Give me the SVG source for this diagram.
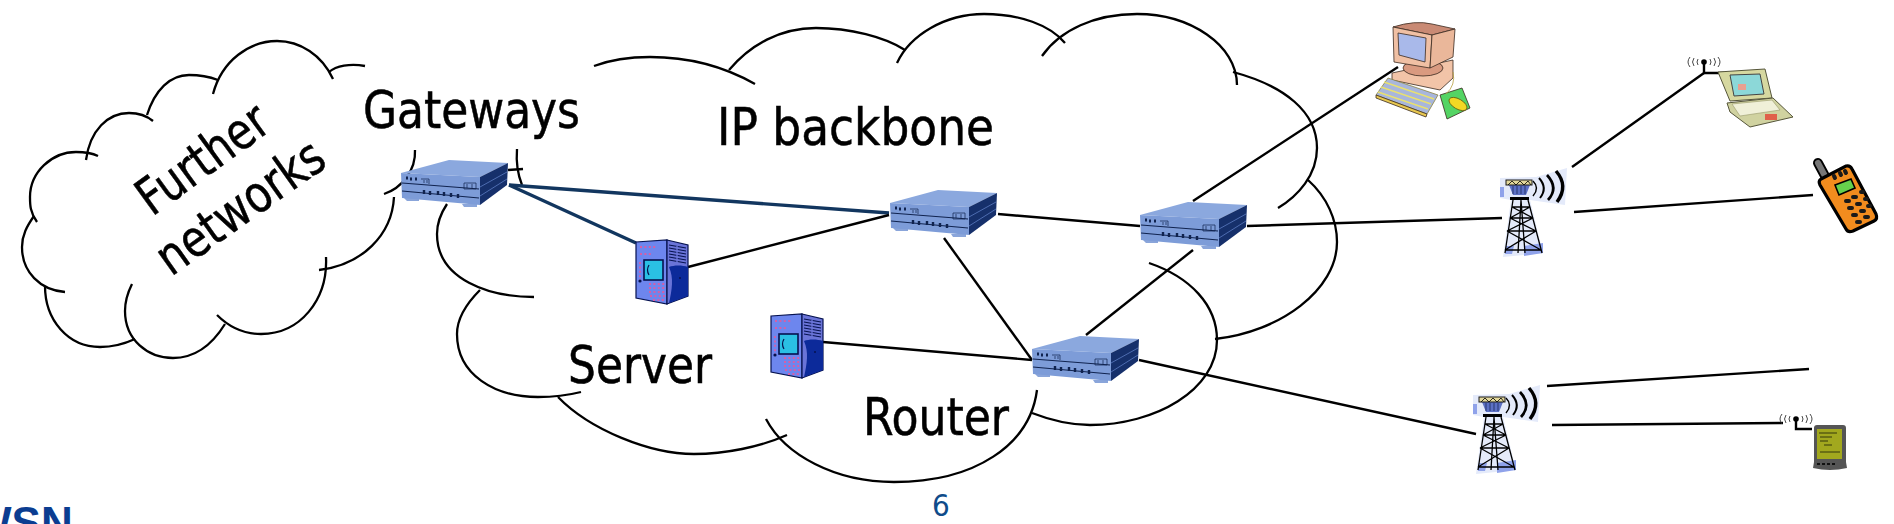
<svg xmlns="http://www.w3.org/2000/svg" xmlns:xlink="http://www.w3.org/1999/xlink" width="1894" height="524" viewBox="0 0 1894 524">
<style>
.cloud{fill:none;stroke:#000;stroke-width:2.3}
.link{fill:none;stroke:#000;stroke-width:2.4}
.navy{fill:none;stroke:#12365f;stroke-width:3.4}
.lbl{font-family:"DejaVu Sans Condensed","DejaVu Sans",sans-serif;font-stretch:condensed;font-size:51px;fill:#000;stroke:#000;stroke-width:.5}
.thin{fill:none;stroke:#000;stroke-width:.8}
.ink{fill:none;stroke:#000;stroke-width:1.3}
</style>
<defs>
<g id="router">
<path d="M3 38h15v3l-12 0zM61 44h15v3h-13z" fill="#8aa5da"/>
<path d="M0 13L48 0L107 3L79 17Z" fill="#8ba8de"/>
<path d="M0 13L79 17V45L1 38Z" fill="#7d9cd8"/>
<path d="M79 17L107 3L106 25L79 45Z" fill="#16306b"/>
<path d="M79 27L106 12M79 36L106 19" stroke="#4d6cb0" stroke-width="1" fill="none"/>
<path d="M1 23L78 29M1 31L78 38" stroke="#10234f" stroke-width="1.2" fill="none"/>
<path d="M5 18h2M9 19h2M14 19h2" stroke="#10234f" stroke-width="3" fill="none"/>
<path d="M20 19h8v5M63 23h12v6h-12zM66 24v4M71 24v4M23 20v3M26 20v3" stroke="#10234f" stroke-width=".7" fill="none"/>
<path d="M23 30v4M29 31v4M37 31v4M43 32v4M50 33v4M57 34v4" stroke="#10234f" stroke-width="2.4" fill="none"/>
</g>
<g id="server">
<path d="M0 2L31 0V64L0 58Z" fill="#6d86ee" stroke="#06124f" stroke-width="1.2"/>
<path d="M31 0L52 5V56L31 64Z" fill="#6a74d8" stroke="#06124f" stroke-width="1.2"/>
<path d="M33 27C38 25 46 25 52 27V56L33 63C36 50 38 38 33 27Z" fill="#0c2a9a"/>
<path d="M33 5L50 8M33 8L50 11M33 11L50 14M33 14L50 17M33 17L50 20M33 20L50 23" stroke="#06124f" stroke-width="1.2" fill="none"/>
<path d="M41 6V24" stroke="#6a74d8" stroke-width="1.4"/>
<rect x="8" y="20" width="19" height="20" fill="#2ac0e4" stroke="#06124f" stroke-width="1.6"/>
<path d="M13 25Q10 30 13 35" stroke="#06124f" stroke-width="1.2" fill="none"/>
<path d="M4 7h16M4 14h13M4 22v20M13 44h16M13 48h16M13 52h16M14 56h15M17 60h11" stroke="#d45fa8" stroke-width="1.8" stroke-dasharray="2 2.4" fill="none"/>
<circle cx="4" cy="41" r="1.6" fill="#06124f"/>
<circle cx="44" cy="38" r="1" fill="#06124f"/>
</g>
<g id="tower">
<path d="M-6 -2L30 -3L61 -12L59 25L24 20L37 73L-3 77L5 20L-6 18Z" fill="#e4eafa"/>
<path d="M-6 7H-2V17H-6ZM18 66L37 63L37 73L18 76ZM0 66L8 66L6 74L-1 74Z" fill="#8fa2ea"/>
<path d="M3 5H24L20 15H7Z" fill="#5c70c4"/>
<path d="M7 6V14M11 6V14M15 6V14M19 6V14" stroke="#27366f" stroke-width="1" fill="none"/>
<rect x="0" y="0" width="26" height="5" fill="#e2d79a" stroke="#1a1a1a" stroke-width="1"/>
<path d="M2 5L6 1L10 5L14 1L18 5L22 1L25 5" class="thin"/>
<path d="M4 17H23V20H4Z" fill="#000"/>
<path d="M7 20L-1 73M22 20L36 73M15 20L12 73M15 20L19 73" class="ink"/>
<path d="M6 27H24M4 38H27M1 51H30M-1 70H35M6 27L27 38M24 27L4 38M4 38L30 51M27 38L1 51M1 51L35 70M30 51L-1 70" class="ink" stroke-width="1"/>
<path d="M27 1Q34 8 27 16" fill="none" stroke="#000" stroke-width="1.4"/>
<path d="M33 -2Q42 8 34 18" fill="none" stroke="#000" stroke-width="2"/>
<path d="M41 -5Q53 8 42 20" fill="none" stroke="#000" stroke-width="2.7"/>
<path d="M50 -9Q63 6 51 22" fill="none" stroke="#000" stroke-width="3.4"/>
</g>
<g id="antenna">
<path d="M-14 -5Q-18 0 -14 5M-10 -4Q-13 0 -10 4M-6 -3Q-8 0 -6 3M14 -5Q18 0 14 5M10 -4Q13 0 10 4M6 -3Q8 0 6 3" fill="none" stroke="#333" stroke-width=".9"/>
<circle r="2.8" fill="#000"/>
</g>
</defs>
<rect width="1894" height="524" fill="#fff"/>

<g id="cloud-further" class="cloud">
<path d="M329 72C336 66 350 63 365 66"/>
<path d="M213 94C222 60 250 41 277 41C300 41 322 55 333 79"/>
<path d="M147 115C155 90 170 75 189 75C200 75 210 77 218 80"/>
<path d="M86 160C90 130 108 113 129 113C138 113 147 116 153 121"/>
<path d="M37 222C30 212 30 205 30 197C30 172 52 152 76 152C84 152 92 153 98 156"/>
<path d="M65 292C40 290 22 272 22 247C22 235 27 226 34 216"/>
<path d="M135 339C122 345 112 347 100 347C68 347 45 320 45 286"/>
<path d="M225 324C212 345 195 358 173 358C148 358 125 340 125 311C125 302 128 292 132 284"/>
<path d="M326 257C328 300 300 334 261 334C243 334 228 326 217 315"/>
<path d="M394 197C392 235 362 265 319 270"/>
<path d="M415 150C416 170 402 188 384 194"/>
</g>
<g id="cloud-backbone" class="cloud">
<path d="M594 66C610 60 625 57 650 57C690 57 725 67 755 84"/>
<path d="M729 70C750 45 780 28 816 28C850 28 885 37 905 50"/>
<path d="M897 63C910 35 945 14 984 14C1020 14 1050 25 1065 43"/>
<path d="M1042 56C1060 30 1095 14 1137 14C1190 14 1237 45 1237 85"/>
<path d="M1233 72C1285 86 1317 112 1317 148C1317 175 1298 196 1278 208"/>
<path d="M1308 180C1327 197 1337 220 1337 242C1337 290 1280 332 1215 339"/>
<path d="M1149 263C1190 277 1217 305 1217 340C1217 390 1155 425 1090 425C1068 425 1050 420 1032 413"/>
<path d="M1037 390C1030 445 975 482 894 482C835 482 785 455 766 419"/>
<path d="M787 435C760 447 725 454 694 454C650 454 590 430 558 397"/>
<path d="M581 392C565 396 552 397 538 397C495 397 457 375 457 334C457 317 468 302 480 290"/>
<path d="M534 297C490 297 437 280 437 234C437 222 441 213 447 204"/>
<path d="M517 149C516 162 518 175 522 185"/>
<path d="M508 170L523 169"/>
</g>

<g id="connectors">
<path class="navy" d="M509 185L889 213"/>
<path class="navy" d="M509 185L636 243"/>
<path class="link" d="M688 267L889 215"/>
<path class="link" d="M998 214L1140 226"/>
<path class="link" d="M944 238L1032 360"/>
<path class="link" d="M823 342L1032 360"/>
<path class="link" d="M1086 335L1193 250"/>
<path class="link" d="M1193 201L1398 67"/>
<path class="link" d="M1247 226L1502 218"/>
<path class="link" d="M1139 360L1476 434"/>
<path class="link" d="M1572 167L1704 73"/>
<path class="link" d="M1574 212L1813 195"/>
<path class="link" d="M1547 386L1809 369"/>
<path class="link" d="M1552 425L1783 423"/>
<path class="link" d="M1704 62V73H1724"/>
<path class="link" d="M1796 419V429H1812"/>
</g>

<g id="gateway-router"><use href="#router" x="401" y="160"/></g>
<g id="router-2"><use href="#router" x="890" y="190"/></g>
<g id="router-3"><use href="#router" x="1140" y="202"/></g>
<g id="router-4"><use href="#router" x="1032" y="336"/></g>
<g id="server-1"><use href="#server" x="636" y="240"/></g>
<g id="server-2"><use href="#server" x="771" y="314"/></g>
<g id="tower-1"><use href="#tower" x="1506" y="180"/></g>
<g id="tower-2"><use href="#tower" x="1479" y="397"/></g>

<g id="computer" stroke="#3a2a20" stroke-width=".8">
<path d="M1392 73L1453 60V78L1440 90L1392 80Z" fill="#f2c4a8"/>
<ellipse cx="1423" cy="68" rx="20" ry="8" fill="#d99a80"/>
<path d="M1393 27Q1415 20 1432 24L1455 29L1432 35Z" fill="#c98a74"/>
<path d="M1393 27L1432 35L1430 68L1394 62Z" fill="#f0c0a4"/>
<path d="M1398 33L1426 38L1425 62L1399 55Z" fill="#a9b9ea"/>
<path d="M1432 35L1455 29L1453 57L1430 68Z" fill="#eab79a"/>
<path d="M1388 78L1438 95L1427 114L1376 95Z" fill="#a8b6dc" stroke="#8a8340"/>
<path d="M1376 95L1427 114L1426 117L1376 98Z" fill="#e8c850"/>
<path d="M1384 82L1434 99M1381 87L1431 104M1378 92L1428 109" stroke="#e8e070" stroke-width="1.4" fill="none"/>
<path d="M1440 95L1462 88L1470 108L1447 119Z" fill="#54d464"/>
<ellipse cx="1458" cy="104" rx="10" ry="5" transform="rotate(30 1458 104)" fill="#f2d824" stroke="#6a6010"/>
<path d="M1453 72Q1456 85 1446 94" fill="none" stroke="#b8a040"/>
</g>

<g id="laptop">
<path d="M1718 72L1765 69L1772 98L1730 101Z" fill="#d6d8a0" stroke="#55553a"/>
<path d="M1730 75L1760 74L1764 94L1734 96Z" fill="#8cd8d8" stroke="#444"/>
<path d="M1738 84h8v6h-8z" fill="#e8a090"/>
<path d="M1727 103L1773 98L1793 117L1750 127L1730 112Z" fill="#d0d2a0" stroke="#55553a"/>
<path d="M1732 104L1772 100L1780 110L1740 116Z" fill="#f0f0d8" stroke="#99996a" stroke-width=".6"/>
<rect x="1765" y="114" width="12" height="6" fill="#e0604a"/>
<use href="#antenna" x="1704" y="62"/>
</g>

<g id="phone">
<path d="M1818 163L1825 176" stroke="#000" stroke-width="10" stroke-linecap="round"/>
<path d="M1818 163L1825 176" stroke="#777" stroke-width="6" stroke-linecap="round"/>
<path d="M1821 179L1846 166Q1850 165 1852 169L1876 214Q1878 219 1874 221L1853 231Q1848 233 1846 229L1820 185Q1818 181 1821 179Z" fill="#f28c1e" stroke="#000" stroke-width="3.2"/>
<path d="M1835 185L1851 179L1855 188L1839 195Z" fill="#66d04c" stroke="#000" stroke-width="1.6"/>
<path d="M1834 176l1 2M1840 173l1 2M1845 171l1 2M1846 201h3M1853 197h3M1861 192h2M1849 208h3M1857 204h3M1865 199h2M1853 215h3M1861 211h3M1868 206h2M1857 222h3M1865 217h3" stroke="#1a1a1a" stroke-width="4" stroke-linecap="round" fill="none"/>
</g>

<g id="pda">
<path d="M1814 428Q1814 425 1817 425H1843Q1846 425 1846 428V462L1847 468Q1830 472 1813 468L1814 462Z" fill="#555"/>
<rect x="1817" y="429" width="25" height="30" fill="#a2a81e"/>
<path d="M1819 433h18M1820 437h12M1820 441h8M1824 445h8M1820 452h20" stroke="#34380a" stroke-width="1" fill="none"/>
<path d="M1817 464h20" stroke="#111" stroke-width="2" stroke-dasharray="3 2"/>
<use href="#antenna" x="1796" y="419"/>
</g>

<g id="labels">
<text class="lbl" x="363" y="128" textLength="217" lengthAdjust="spacingAndGlyphs">Gateways</text>
<text class="lbl" x="717" y="145" textLength="277" lengthAdjust="spacingAndGlyphs">IP backbone</text>
<text class="lbl" x="568" y="383" textLength="144" lengthAdjust="spacingAndGlyphs">Server</text>
<text class="lbl" x="863" y="435" textLength="146" lengthAdjust="spacingAndGlyphs">Router</text>
<text class="lbl" transform="translate(152 217) rotate(-36)" textLength="150" lengthAdjust="spacingAndGlyphs">Further</text>
<text class="lbl" transform="translate(171 277) rotate(-35.3)" textLength="194" lengthAdjust="spacingAndGlyphs">networks</text>
<text x="932" y="516" font-family="DejaVu Sans Condensed,DejaVu Sans,sans-serif" font-size="31" fill="#0f4c8a">6</text>
<text x="-30" y="538" font-family="Liberation Sans,Arial,sans-serif" font-weight="700" font-size="44" fill="#0b3d91">WSN</text>
</g>
</svg>
